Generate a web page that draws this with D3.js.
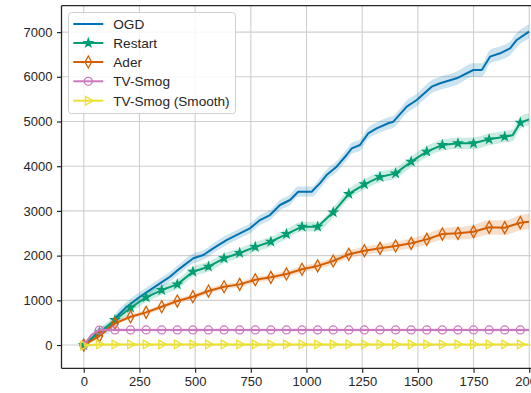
<!DOCTYPE html>
<html><head><meta charset="utf-8">
<script src="https://cdn.jsdelivr.net/npm/d3@7"></script>
<style>body{margin:0;background:#fff;}svg{display:block;font-family:"Liberation Sans",Arial,sans-serif;}</style>
</head><body>
<svg id="c" width="531" height="393"></svg>
<script>
const seriesNames = ["OGD","Restart","Ader","TV-Smog","TV-Smog (Smooth)"];
const seriesColors = ["#0173b2","#029e73","#d55e00","#cc78bc","#ece133"];
const xTicks = [0,250,500,750,1000,1250,1500,1750,2000];
const yTicks = [0,1000,2000,3000,4000,5000,6000,7000];

const ogdX = [0,43,73,100,118,148,193,252,297,342,387,432,492,537,581,641,701,746,791,836,881,926,963,1023,1060,1090,1135,1180,1203,1240,1277,1315,1367,1390,1450,1495,1562,1600,1674,1749,1787,1824,1869,1914,1944,1999];
const ogdY = [0,186,330,345,410,633,857,1080,1230,1380,1528,1716,1940,2013,2163,2349,2499,2610,2796,2908,3132,3244,3430,3430,3617,3803,3989,4251,4400,4474,4736,4848,4960,4996,5331,5481,5779,5855,5966,6152,6152,6450,6525,6637,6823,7009];
const ogdSpread = [10,60,90,100,105,110,110,110,110,110,110,110,110,110,110,110,110,110,110,110,115,115,115,115,120,120,120,125,125,125,130,130,135,135,140,140,145,145,150,150,150,155,155,155,160,160];

const restartX = [0,70,140,210,280,350,420,490,560,630,700,770,840,910,980,1050,1120,1190,1260,1330,1400,1470,1540,1610,1680,1750,1820,1890,1925,1960,1999];
const restartY = [0,280,559,835,1067,1230,1357,1640,1752,1940,2060,2195,2311,2483,2647,2647,2968,3380,3595,3760,3840,4101,4325,4474,4512,4512,4601,4660,4690,4973,5049];
const restartSpread = [10,80,100,110,110,110,110,110,110,110,110,110,110,110,110,110,115,115,115,120,120,120,125,125,125,130,130,130,130,135,135];

const aderX = [0,70,140,210,280,350,420,490,560,630,700,770,840,910,980,1050,1120,1190,1260,1330,1400,1470,1540,1610,1680,1750,1820,1890,1960,1999];
const aderY = [0,201,485,633,731,857,984,1081,1208,1304,1357,1460,1515,1590,1695,1770,1880,2030,2110,2163,2215,2275,2364,2483,2498,2535,2633,2625,2737,2759];
const aderSpread = [10,40,50,50,50,55,55,55,60,60,60,65,65,70,70,75,80,85,90,95,100,110,120,130,140,150,160,165,170,170];

const smogX = [0,35,70,140,210,280,350,420,490,560,630,700,770,840,910,980,1050,1120,1190,1260,1330,1400,1470,1540,1610,1680,1750,1820,1890,1960,1999];
const smogY = [0,230,336,338,338,338,338,338,338,338,338,338,338,338,338,338,338,338,338,338,338,338,338,338,338,338,338,338,338,338,338];
const smogSpread = [10,40,35,35,35,35,35,35,35,35,35,35,35,35,35,35,35,35,35,35,35,35,35,35,35,35,35,35,35,35,35];

const smoothX = [0,70,140,210,280,350,420,490,560,630,700,770,840,910,980,1050,1120,1190,1260,1330,1400,1470,1540,1610,1680,1750,1820,1890,1960,1999];
const smoothY = [-10,15,15,15,15,15,15,15,15,15,15,15,15,15,15,15,15,15,15,15,15,15,15,15,15,15,15,15,15,15];
const smoothSpread = [40,30,30,30,30,30,30,30,30,30,30,30,30,30,30,30,30,30,30,30,30,30,30,30,30,30,30,30,30,30];

const markerTypes = ["none","star","diamond","circle","triangle"];

const svg = d3.select("#c");
const L = 61.5, R = 551.5, T = 5.7, B = 368.3;
const x = d3.scaleLinear().domain([-100,2100]).range([L,R]);
const y = d3.scaleLinear().domain([-520,7590]).range([B,T]);

// grid
const g = svg.append("g");
g.selectAll(".vg").data(xTicks).join("line")
  .attr("x1",d=>x(d)).attr("x2",d=>x(d)).attr("y1",T).attr("y2",B)
  .attr("stroke","#cfcfcf").attr("stroke-width",1.1);
g.selectAll(".hg").data(yTicks).join("line")
  .attr("x1",L).attr("x2",R).attr("y1",d=>y(d)).attr("y2",d=>y(d))
  .attr("stroke","#cfcfcf").attr("stroke-width",1.1);

function markerPath(type){
  if(type==="star") return d3.symbol().type(d3.symbolStar).size(20)();
  if(type==="circle") return d3.symbol().type(d3.symbolCircle).size(Math.PI*4*4)();
  if(type==="diamond"){const w=3.3,h=6;return `M0,${-h}L${w},0L0,${h}L${-w},0Z`;}
  if(type==="triangle"){const r=4.8;return `M${r},0L${-r*0.6},${-r*0.9}L${-r*0.6},${r*0.9}Z`;}
  return null;
}

const all = [
  {xs:ogdX, ys:ogdY, sp:ogdSpread},
  {xs:restartX, ys:restartY, sp:restartSpread},
  {xs:aderX, ys:aderY, sp:aderSpread},
  {xs:smogX, ys:smogY, sp:smogSpread},
  {xs:smoothX, ys:smoothY, sp:smoothSpread}
];

const plot = svg.append("g");
all.forEach((s,i)=>{
  const col = seriesColors[i];
  const pts = s.xs.map((v,j)=>({x:v,y:s.ys[j],e:s.sp[j]}));
  const area = d3.area().x(d=>x(d.x)).y0(d=>y(d.y-d.e)).y1(d=>y(d.y+d.e)).curve(d3.curveMonotoneX);
  plot.append("path").attr("d",area(pts)).attr("fill",col).attr("fill-opacity",0.2).attr("stroke","none");
  const line = d3.line().x(d=>x(d.x)).y(d=>y(d.y));
  plot.append("path").attr("d",line(pts)).attr("fill","none").attr("stroke",col).attr("stroke-width",2).attr("stroke-linejoin","round");
  const mt = markerTypes[i];
  if(mt!=="none"){
    const mp = markerPath(mt);
    plot.selectAll(null).data(pts.filter(d=>d.x%70===0)).join("path")
      .attr("d",mp).attr("transform",d=>`translate(${x(d.x)},${y(d.y)})`)
      .attr("fill", mt==="star"?col:"none").attr("stroke",col).attr("stroke-width",1.3);
  }
});

// frame
svg.append("line").attr("x1",L).attr("x2",L).attr("y1",T).attr("y2",B).attr("stroke","#262626").attr("stroke-width",1.3);
svg.append("line").attr("x1",L).attr("x2",R).attr("y1",B).attr("y2",B).attr("stroke","#262626").attr("stroke-width",1.3);
svg.append("line").attr("x1",L).attr("x2",R).attr("y1",T).attr("y2",T).attr("stroke","#262626").attr("stroke-width",1.3);

// axes
const ax = svg.append("g").attr("transform",`translate(0,${B})`)
  .call(d3.axisBottom(x).tickValues(xTicks).tickSize(4.5).tickPadding(4).tickFormat(d3.format("d")));
const ay = svg.append("g").attr("transform",`translate(${L},0)`)
  .call(d3.axisLeft(y).tickValues(yTicks).tickSize(4.5).tickPadding(4.5).tickFormat(d3.format("d")));
[ax,ay].forEach(a=>{
  a.select(".domain").remove();
  a.selectAll(".tick line").attr("stroke","#262626").attr("stroke-width",1.2);
  a.selectAll(".tick text").attr("fill","#262626").style("font-size","13px").style("font-family","'Liberation Sans',Arial,sans-serif");
});

// legend
const lg = svg.append("g");
lg.append("rect").attr("x",68.5).attr("y",12.5).attr("width",167).attr("height",101).attr("rx",3)
  .attr("fill","#fff").attr("fill-opacity",0.85).attr("stroke","#d0d0d0").attr("stroke-width",1);
const legY = [24,43,62,81.3,100.7];
seriesNames.forEach((n,i)=>{
  const col = seriesColors[i];
  lg.append("line").attr("x1",73.3).attr("x2",103.3).attr("y1",legY[i]).attr("y2",legY[i]).attr("stroke",col).attr("stroke-width",2);
  const mt = markerTypes[i];
  if(mt!=="none"){
    lg.append("path").attr("d",markerPath(mt)).attr("transform",`translate(88.3,${legY[i]})`)
      .attr("fill", mt==="star"?col:"none").attr("stroke",col).attr("stroke-width",1.3);
  }
  lg.append("text").attr("x",113.3).attr("y",legY[i]).attr("dy","0.36em").attr("fill","#262626")
    .style("font-size","13.6px").text(n);
});
</script>
</body></html>
